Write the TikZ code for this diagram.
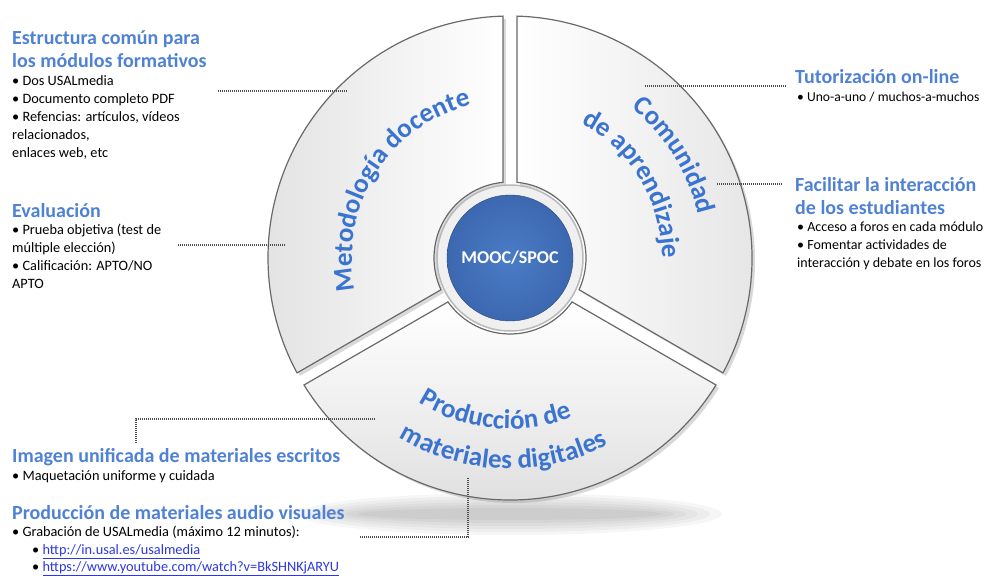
\documentclass[tikz,border=0pt]{standalone}
\usepackage{fontspec}
\setmainfont{Carlito}
\usetikzlibrary{calc,decorations.text,shadows}

\definecolor{headblue}{RGB}{79,129,212}
\definecolor{secblue}{RGB}{58,116,208}
\definecolor{hubblue}{RGB}{60,104,176}
\definecolor{linkblue}{RGB}{45,55,225}
\definecolor{rimgray}{RGB}{105,105,105}

\newcommand{\secfont}{\fontsize{27}{30}\selectfont\bfseries}
\newcommand{\weblink}[1]{\textcolor{linkblue}{\underline{#1}}}

\tikzset{
  head/.style={anchor=north west, inner sep=0pt, align=left, text=headblue, font=\fontsize{20}{23}\selectfont\bfseries},
  items/.style={anchor=north west, inner sep=0pt, align=left, font=\fontsize{14.3}{18}\selectfont},
  leader/.style={draw=gray!60!black, line width=1.1pt, dash pattern=on 1pt off 1pt},
  sector/.style={draw=rimgray, line width=1.2pt, drop shadow={opacity=0.3, shadow xshift=3pt, shadow yshift=-3pt}},
  arclabel/.style={decorate, decoration={text along path, text align=center, text color=secblue}}
}

\begin{document}
\begin{tikzpicture}[x=1pt, y=1pt]
	\useasboundingbox (0,0) rectangle (989,576);
	% soft shadow under the disc
	\foreach \s in {1,...,6}
		\fill[black, opacity=0.035] (510,62) ellipse ({140+12*\s} and {3+3*\s});
	% the three sectors
	\begin{scope}[shift={(510,318)}]
		\path[sector, left color=gray!22, right color=white] (95.3:76) -- (91.65:242) arc[start angle=91.65, end angle=208.35, radius=242pt] -- (204.7:76) arc[start angle=204.7, end angle=95.3, radius=76pt] -- cycle;
		\path[sector, left color=white, right color=gray!22] (-24.7:76) -- (-28.35:242) arc[start angle=-28.35, end angle=88.35, radius=242pt] -- (84.7:76) arc[start angle=84.7, end angle=-24.7, radius=76pt] -- cycle;
		\path[sector, top color=white, bottom color=gray!28] (215.3:76) -- (211.65:242) arc[start angle=211.65, end angle=328.35, radius=242pt] -- (324.7:76) arc[start angle=324.7, end angle=215.3, radius=76pt] -- cycle;
		% curved labels
		\path[arclabel, decoration={text={|\secfont|Metodología docente}}] (200:158) arc[start angle=200, end angle=96, radius=158pt];
		\path[arclabel, decoration={text={|\secfont|Comunidad}}] (70:193) arc[start angle=70, end angle=-6, radius=193pt];
		\path[arclabel, decoration={text={|\secfont|de aprendizaje}}] (75:152) arc[start angle=75, end angle=-13, radius=152pt];
		\path[arclabel, decoration={text={|\secfont|Producción de}}] (230:171) arc[start angle=230, end angle=299, radius=171pt];
		\path[arclabel, decoration={text={|\secfont|materiales digitales}}] (228:211) arc[start angle=228, end angle=308, radius=211pt];
	\end{scope}
	% hub
	\fill[gray!12, draw=gray!55, line width=1.5pt] (510,318) circle (73);
	\node[circle, minimum size=126pt, inner color={rgb,255:red,74;green,124;blue,198}, outer color=hubblue, draw=hubblue!70!black, text=white, font=\fontsize{18}{18}\selectfont\bfseries] (hub) at (510,318) {MOOC/SPOC};

	% text blocks, left
	\node[head] (estr) at (12,546) {Estructura común para\\los módulos formativos};
	\node[items] (estritems) at (12,501) {• Dos USALmedia\\• Documento completo PDF\\• Refencias: artículos, vídeos\\relacionados,\\enlaces web, etc};
	\node[head] (eval) at (12,373) {Evaluación};
	\node[items] (evalitems) at (12,352) {• Prueba objetiva (test de\\múltiple elección)\\• Calificación: APTO/NO\\APTO};
	% text blocks, right
	\node[head] (tut) at (795,507) {Tutorización on-line};
	\node[items, font=\fontsize{13.6}{18}\selectfont] (tutitems) at (797,484) {• Uno-a-uno / muchos-a-muchos};
	\node[head] (faci) at (795,399) {Facilitar la interacción\\de los estudiantes};
	\node[items, font=\fontsize{14}{18}\selectfont] (faciitems) at (797,354) {• Acceso a foros en cada módulo\\• Fomentar actividades de\\interacción y debate en los foros};
	% text blocks, bottom
	\node[head] (imag) at (12,128) {Imagen unificada de materiales escritos};
	\node[items] (imagitems) at (12,106) {• Maquetación uniforme y cuidada};
	\node[head] (prod) at (12,71) {Producción de materiales audio visuales};
	\node[items, font=\fontsize{14.3}{17.5}\selectfont] (proditems) at (12,50) {• Grabación de USALmedia (máximo 12 minutos):\\\hspace*{20pt}• \weblink{http://in.usal.es/usalmedia}\\\hspace*{20pt}• \weblink{https://www.youtube.com/watch?v=BkSHNKjARYU}};

	% dotted leaders
	\coordinate (l1a) at (218,485);
	\coordinate (l1b) at (348,485);
	\coordinate (l2a) at (178,331);
	\coordinate (l2b) at (286,331);
	\coordinate (l3a) at (645,490);
	\coordinate (l3b) at (787,490);
	\coordinate (l4a) at (717,392);
	\coordinate (l4b) at (783,392);
	\coordinate (l5a) at (375,157);
	\coordinate (l5b) at (136,133);
	\coordinate (l6a) at (468,98);
	\coordinate (l6b) at (360,39);
	\draw[leader] (l1a) -- (l1b);
	\draw[leader] (l2a) -- (l2b);
	\draw[leader] (l3a) -- (l3b);
	\draw[leader] (l4a) -- (l4b);
	\draw[leader] (l5a) -| (l5b);
	\draw[leader] (l6a) |- (l6b);
\end{tikzpicture}
\end{document}
